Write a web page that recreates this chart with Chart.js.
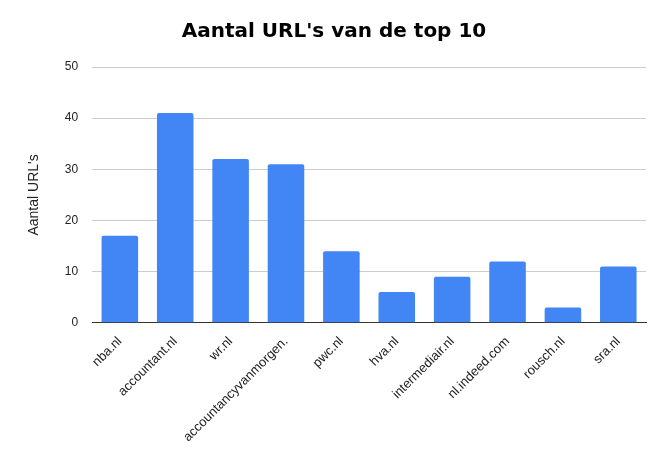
<!DOCTYPE html>
<html>
<head>
<meta charset="utf-8">
<script src="https://cdn.jsdelivr.net/npm/chart.js@4"></script>
<style>body{margin:0;background:#fff}</style>
</head>
<body>
<canvas id="c" width="668" height="460"></canvas>
<script>
const categories = ['nba.nl', 'accountant.nl', 'wr.nl', 'accountancyvanmorgen.', 'pwc.nl', 'hva.nl', 'intermediair.nl', 'nl.indeed.com', 'rousch.nl', 'sra.nl'];
const urlCounts = [17, 41, 32, 31, 14, 6, 9, 12, 3, 11];
const yTicks = [0, 10, 20, 30, 40, 50];

new Chart(document.getElementById('c').getContext('2d'), {
    type: 'bar',
    data: {
        labels: categories,
        datasets: [{
            data: urlCounts,
            backgroundColor: '#4285f4',
            borderRadius: 2,
            barPercentage: 0.66,
            categoryPercentage: 1
        }]
    },
    options: {
        responsive: false,
        animation: false,
        layout: { padding: { left: 22, right: 22, top: 12, bottom: 12 } },
        plugins: {
            legend: { display: false },
            title: {
                display: true,
                text: "Aantal URL's van de top 10",
                color: '#000',
                font: { family: 'DejaVu Sans', size: 20, weight: 'bold' },
                padding: { top: 8, bottom: 23 }
            }
        },
        scales: {
            x: {
                grid: { display: false },
                border: { color: '#333' },
                ticks: {
                    color: '#222',
                    font: { family: 'Liberation Sans', size: 13 },
                    maxRotation: 45,
                    minRotation: 45
                }
            },
            y: {
                min: 0,
                max: 50,
                afterBuildTicks: axis => { axis.ticks = yTicks.map(v => ({ value: v })); },
                grid: { color: '#ccc', drawTicks: false },
                border: { display: false },
                ticks: { color: '#222', padding: 14, font: { family: 'Liberation Sans', size: 12 } },
                title: {
                    display: true,
                    text: "Aantal URL's",
                    color: '#222',
                    font: { family: 'Liberation Sans', size: 14 },
                    padding: { bottom: 8 }
                }
            }
        }
    }
});
</script>
</body>
</html>
